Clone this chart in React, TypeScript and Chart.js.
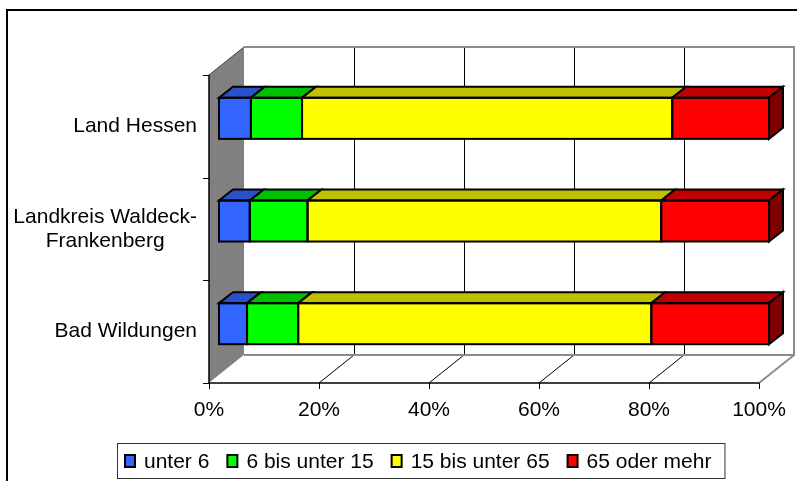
import React, { useEffect, useRef } from "react";
import { Chart, registerables } from "chart.js";

Chart.register(...registerables);

// ---- data ----
const categories: (string | string[])[] = [
  "Land Hessen",
  ["Landkreis Waldeck-", "Frankenberg"],
  "Bad Wildungen",
];
const seriesNames = ["unter 6", "6 bis unter 15", "15 bis unter 65", "65 oder mehr"];
const unter6 = [5.8, 5.6, 5.1];
const bis15 = [9.3, 10.5, 9.3];
const bis65 = [67.3, 64.3, 64.2];
const ab65 = [17.6, 19.6, 21.4];
const xTickValues = [0, 20, 40, 60, 80, 100];

// ---- styles ----
const frontColors = ["#3366FF", "#00FF00", "#FFFF00", "#FF0000"];
const topColors = ["#2A52C8", "#00C000", "#C0C000", "#C00000"];
const sideColors = ["#1E3C96", "#008000", "#808000", "#800000"];
const FONT = "'Liberation Sans', Arial, Helvetica, sans-serif";
const FONT_SIZE = 21;

const DEPTH_X = 35;
const DEPTH_Y = 28;
const FRONT_X = 10;
const FRONT_Y = 8;
const BAR_DX = 14;
const BAR_DY = 11;

const threeDPlugin = {
  id: "threeD",
  beforeDraw(chart: any) {
    const ctx = chart.ctx;
    ctx.save();
    ctx.fillStyle = "#ffffff";
    ctx.fillRect(0, 0, chart.width, chart.height);
    ctx.strokeStyle = "#000000";
    ctx.lineWidth = 2;
    ctx.strokeRect(7, 10, 1000, 1000);
    ctx.restore();
  },
  beforeDatasetsDraw(chart: any) {
    const ctx = chart.ctx;
    const xs = chart.scales.x;
    const ys = chart.scales.y;
    const ca = chart.chartArea;
    const fx = (v: number) => xs.getPixelForValue(v) - FRONT_X;
    const bx = (v: number) => fx(v) + DEPTH_X;
    const fTop = ca.top + FRONT_Y;
    const fBot = ca.bottom + FRONT_Y;
    const bTop = fTop - DEPTH_Y;
    const bBot = fBot - DEPTH_Y;
    const x0 = xTickValues[0];
    const x1 = xTickValues[xTickValues.length - 1];

    ctx.save();
    // side wall
    ctx.fillStyle = "#808080";
    ctx.beginPath();
    ctx.moveTo(fx(x0), fTop);
    ctx.lineTo(bx(x0), bTop);
    ctx.lineTo(bx(x0), bBot);
    ctx.lineTo(fx(x0), fBot);
    ctx.closePath();
    ctx.fill();
    ctx.strokeStyle = "#404040";
    ctx.lineWidth = 1;
    ctx.beginPath();
    ctx.moveTo(fx(x0), fTop);
    ctx.lineTo(bx(x0), bTop);
    ctx.stroke();

    // back wall
    ctx.fillStyle = "#ffffff";
    ctx.fillRect(bx(x0), bTop, bx(x1) - bx(x0), bBot - bTop);

    // floor
    ctx.beginPath();
    ctx.moveTo(fx(x0), fBot);
    ctx.lineTo(fx(x1), fBot);
    ctx.lineTo(bx(x1), bBot);
    ctx.lineTo(bx(x0), bBot);
    ctx.closePath();
    ctx.fill();

    // grid lines on back wall and floor
    ctx.strokeStyle = "#000000";
    ctx.lineWidth = 1;
    for (const v of xTickValues.slice(1, -1)) {
      const xb = Math.round(bx(v)) + 0.5;
      ctx.beginPath();
      ctx.moveTo(xb, bTop);
      ctx.lineTo(xb, bBot);
      ctx.stroke();
      ctx.beginPath();
      ctx.moveTo(fx(v), fBot);
      ctx.lineTo(bx(v), bBot);
      ctx.stroke();
    }

    // back wall & floor outline (gray)
    ctx.strokeStyle = "#8C8C8C";
    ctx.lineWidth = 2;
    ctx.beginPath();
    ctx.moveTo(bx(x0), bTop);
    ctx.lineTo(bx(x1), bTop);
    ctx.lineTo(bx(x1), bBot);
    ctx.lineTo(bx(x0), bBot);
    ctx.stroke();
    ctx.beginPath();
    ctx.moveTo(bx(x1), bBot);
    ctx.lineTo(fx(x1), fBot);
    ctx.stroke();

    // front floor edge + left axis line
    ctx.strokeStyle = "#000000";
    ctx.lineWidth = 1.5;
    ctx.beginPath();
    ctx.moveTo(fx(x0), fTop);
    ctx.lineTo(fx(x0), fBot);
    ctx.lineTo(fx(x1), fBot);
    ctx.stroke();

    // x ticks on the front edge
    ctx.lineWidth = 1;
    for (const v of xTickValues) {
      const x = Math.round(fx(v)) + 0.5;
      ctx.beginPath();
      ctx.moveTo(x, fBot);
      ctx.lineTo(x, fBot + 6);
      ctx.stroke();
    }

    // category ticks
    const n = categories.length;
    const band = (ca.bottom - ca.top) / n;
    for (let i = 0; i <= n; i++) {
      const y = Math.round(ys.getPixelForValue(0) - band / 2 + i * band + FRONT_Y) + 0.5;
      ctx.beginPath();
      ctx.moveTo(fx(x0) - 6, y);
      ctx.lineTo(fx(x0), y);
      ctx.stroke();
    }

    // category labels
    ctx.fillStyle = "#000000";
    ctx.font = `${FONT_SIZE}px ${FONT}`;
    ctx.textBaseline = "middle";
    ctx.textAlign = "center";
    const lh = 24;
    const rightEdge = fx(x0) - 12;
    categories.forEach((c, i) => {
      const lines = Array.isArray(c) ? c : [c];
      const w = Math.max(...lines.map((l) => ctx.measureText(l).width));
      const cx = rightEdge - w / 2;
      const cy = ys.getPixelForValue(i) + FRONT_Y;
      lines.forEach((l, k) => {
        ctx.fillText(l, cx, cy + (k - (lines.length - 1) / 2) * lh);
      });
    });
    ctx.restore();
  },
  afterDatasetsDraw(chart: any) {
    const ctx = chart.ctx;
    const nd = chart.data.datasets.length;
    ctx.save();
    ctx.strokeStyle = "#000000";
    ctx.lineWidth = 2;
    ctx.lineJoin = "miter";
    for (let d = 0; d < nd; d++) {
      const meta = chart.getDatasetMeta(d);
      meta.data.forEach((el: any) => {
        const left = Math.min(el.x, el.base);
        const right = Math.max(el.x, el.base);
        const top = el.y - el.height / 2;
        const bottom = el.y + el.height / 2;
        // top face
        ctx.fillStyle = topColors[d];
        ctx.beginPath();
        ctx.moveTo(left, top);
        ctx.lineTo(left + BAR_DX, top - BAR_DY);
        ctx.lineTo(right + BAR_DX, top - BAR_DY);
        ctx.lineTo(right, top);
        ctx.closePath();
        ctx.fill();
        ctx.stroke();
        // side face (only visible on the last segment)
        if (d === nd - 1) {
          ctx.fillStyle = sideColors[d];
          ctx.beginPath();
          ctx.moveTo(right, top);
          ctx.lineTo(right + BAR_DX, top - BAR_DY);
          ctx.lineTo(right + BAR_DX, bottom - BAR_DY);
          ctx.lineTo(right, bottom);
          ctx.closePath();
          ctx.fill();
          ctx.stroke();
        }
        // front outline
        ctx.strokeRect(left, top, right - left, bottom - top);
      });
    }
    ctx.restore();
  },
  afterDraw(chart: any) {
    const ctx = chart.ctx;
    ctx.save();
    ctx.font = `${FONT_SIZE}px ${FONT}`;
    ctx.textBaseline = "middle";
    ctx.textAlign = "left";
    const y = 461;
    let x = 125;
    const gap = 18;
    chart.data.datasets.forEach((ds: any, i: number) => {
      ctx.fillStyle = frontColors[i];
      ctx.fillRect(x, y - 6, 10, 12);
      ctx.strokeStyle = "#000000";
      ctx.lineWidth = 2;
      ctx.strokeRect(x, y - 6, 10, 12);
      ctx.fillStyle = "#000000";
      ctx.fillText(ds.label, x + 19, y + 1);
      x += 19 + ctx.measureText(ds.label).width + gap;
    });
    const right = x - gap + 13;
    ctx.strokeStyle = "#333333";
    ctx.lineWidth = 1;
    ctx.strokeRect(117.5, 443.5, right - 117, 35);
    ctx.restore();
  },
};

export default function App() {
  const ref = useRef<HTMLCanvasElement>(null);
  useEffect(() => {
    if (!ref.current) return;
    const series = [unter6, bis15, bis65, ab65];
    const chart = new Chart(ref.current, {
      type: "bar",
      data: {
        labels: categories as any,
        datasets: series.map((vals, i) => ({
          label: seriesNames[i],
          data: vals,
          backgroundColor: frontColors[i],
          borderWidth: 0,
          categoryPercentage: 1,
          barPercentage: 0.4,
        })),
      },
      options: {
        indexAxis: "y",
        responsive: false,
        animation: false,
        layout: { padding: { top: 67, right: 28, left: 0, bottom: 0 } },
        plugins: { legend: { display: false }, tooltip: { enabled: false } },
        scales: {
          x: {
            type: "linear",
            stacked: true,
            min: 0,
            max: 100,
            position: "bottom",
            grid: { display: false, drawTicks: true, tickLength: 23 },
            border: { display: false },
            afterBuildTicks: (s: any) => {
              s.ticks = xTickValues.map((v) => ({ value: v }));
            },
            afterFit: (s: any) => {
              s.height = 106;
            },
            ticks: {
              color: "#000000",
              font: { family: FONT, size: FONT_SIZE },
              padding: 0,
              labelOffset: -FRONT_X,
              maxRotation: 0,
              callback: (v: any) => `${v}%`,
            },
          },
          y: {
            type: "category",
            stacked: true,
            grid: { display: false, drawTicks: false },
            border: { display: false },
            ticks: { display: false },
            afterFit: (s: any) => {
              s.width = 219;
            },
          },
        },
      },
      plugins: [threeDPlugin],
    });
    return () => chart.destroy();
  }, []);
  return (
    <div style={{ position: "absolute", left: 0, top: 0, width: 797, height: 481 }}>
      <canvas ref={ref} width={797} height={481} style={{ display: "block" }} />
    </div>
  );
}
